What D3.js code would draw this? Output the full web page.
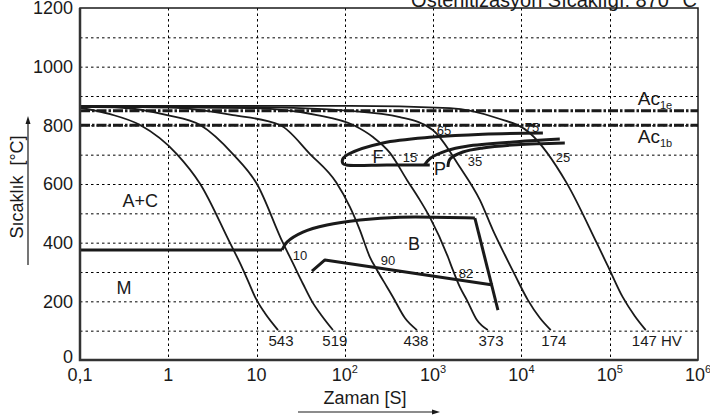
<!DOCTYPE html>
<html><head><meta charset="utf-8">
<script src="https://cdn.jsdelivr.net/npm/d3@7"></script>
<style>body{margin:0;background:#fff}svg{display:block;font-family:"Liberation Sans",Arial,sans-serif}</style>
</head><body><svg id="c" width="710" height="419"></svg>
<script>
// ---- data ----
const timeTicks = [0.1, 1, 10, 100, 1000, 1e4, 1e5, 1e6];
const timeTickLabels = ["0,1", "1", "10", "10|2", "10|3", "10|4", "10|5", "10|6"];
const tempTicks = [0, 200, 400, 600, 800, 1000, 1200];
const gridTemps = [100, 200, 300, 400, 500, 600, 700, 800, 900, 1000, 1100];
const gridTimes = [1, 10, 100, 1000, 1e4, 1e5];
const title = "Östenitizasyon Sıcaklığı: 870 °C";
const yLabel = "Sıcaklık  [°C]";
const xLabel = "Zaman [S]";

// cooling curves [time s, temperature °C]
const cool543 = [[0.1,860],[0.22,838],[0.48,801],[1.25,702],[2.3,600],[5.0,399],[6.5,330],[8.0,270],[9.8,210],[12.4,160],[17.5,102]];
const cool519 = [[0.1,863],[0.3,860],[0.97,835],[2.3,801],[5.4,702],[10.1,600],[19.9,399],[25.8,330],[33.5,260],[42.4,200],[55,150],[73.3,102]];
const cool438 = [[0.1,864],[1,861],[5.4,835],[18.4,801],[40.3,702],[80,605],[114,522],[148,443],[192,351],[231,307],[300,249],[350,215],[479,143],[655,102]];
const cool373 = [[0.1,864],[8.4,859],[48.3,835],[124,801],[208,760],[324,706],[505,614],[708,545],[916,487],[1472,351],[1671,307],[2005,249],[2405,205],[3133,136],[4159,102]];
const cool174 = [[0.1,865],[8.4,862],[114,849],[420,828],[991,784],[2005,658],[3390,545],[4750,443],[6500,358],[8430,290],[11800,205],[16200,143],[21500,102]];
const cool147 = [[0.1,866],[114,866],[1545,859],[5260,825],[12420,774],[32600,603],[71300,399],[95400,320],[140000,215],[192000,150],[256000,102]];
const coolingCurves = [cool543, cool519, cool438, cool373, cool174, cool147];
const hardnessLabels = [[18.9,"543"],[77,"519"],[638,"438"],[4520,"373"],[23300,"174"],[178000,"147 HV"]];
const hardnessTemp = 48;

// transformation lines
const msLine = [[0.1,375],[19.4,375]];
const bStart = [[19.4,375],[22.1,402],[33.5,436],[62.7,460],[148,477],[420,487],[2970,484]];
const bFinish = [[2970,484],[5420,170]];
const bLower = [[42.4,303],[59.5,341],[4750,256]];
const fStart = [[916,665],[300,665],[104,665],[95,670],[95,686],[112,703],[270,740],[991,760],[3660,770],[17500,774]];
const pStart = [[800,665],[930,688],[1430,714],[2405,729],[8890,744],[27200,753]];
const pFinish = [[1472,658],[1550,685],[2170,709],[3660,723],[8890,734],[31000,740]];
const ac1e = 850, ac1b = 800;

// annotations [time, temp, text]
const regionLabels = [[0.48,522,"A+C"],[0.315,225,"M"],[607,375,"B"],[237,672,"F"],[1194,631,"P"]];
const percentLabels = [[546,675,"15"],[2972,661,"35"],[29500,675,"25"],[1325,767,"65"],[13150,777,"75"],[31,341,"10"],[308,324,"90"],[2350,280,"82"]];

// ---- chart ----
const svg = d3.select("#c");
const x = d3.scaleLog().domain([0.1, 1e6]).range([80, 698]);
const y = d3.scaleLinear().domain([0, 1200]).range([360, 8]);
const ink = "#1a1a1a";

svg.append("clipPath").attr("id","clip").append("rect")
  .attr("x", x(0.1)).attr("y", y(1200)).attr("width", x(1e6)-x(0.1)).attr("height", y(0)-y(1200));

// grid
const grid = svg.append("g").attr("stroke", "#000").attr("stroke-width", 1).attr("stroke-dasharray", "2.5,3");
grid.selectAll("line.h").data(gridTemps).join("line").attr("class","h")
  .attr("x1", x(0.1)).attr("x2", x(1e6)).attr("y1", d => y(d)+0.5).attr("y2", d => y(d)+0.5);
grid.selectAll("line.v").data(gridTimes).join("line").attr("class","v")
  .attr("y1", y(1200)).attr("y2", y(0)).attr("x1", d => Math.round(x(d))+0.5).attr("x2", d => Math.round(x(d))+0.5);

// Ac lines
svg.append("g").selectAll("line").data([ac1e, ac1b]).join("line")
  .attr("x1", x(0.1)).attr("x2", x(1e6)).attr("y1", d => y(d)).attr("y2", d => y(d))
  .attr("stroke", ink).attr("stroke-width", 3).attr("stroke-dasharray", "10,2,2.5,2");

const coolGen = d3.line().x(d => x(d[0])).y(d => y(d[1])).curve(d3.curveMonotoneX);
const lineGen = d3.line().x(d => x(d[0])).y(d => y(d[1])).curve(d3.curveCatmullRom.alpha(0.5));
const linGen = d3.line().x(d => x(d[0])).y(d => y(d[1]));
const plot = svg.append("g").attr("clip-path", "url(#clip)");

plot.selectAll("path.cool").data(coolingCurves).join("path").attr("class","cool")
  .attr("d", coolGen).attr("fill","none").attr("stroke", ink).attr("stroke-width", 1.8);

function thick(data, gen) {
  plot.append("path").attr("d", gen(data)).attr("fill","none").attr("stroke", ink)
    .attr("stroke-width", 3).attr("stroke-linejoin","round");
}
thick(msLine, linGen);
thick(bStart, lineGen);
thick(bFinish, linGen);
thick(bLower, linGen);
thick(fStart, lineGen);
thick(pStart, lineGen);
thick(pFinish, lineGen);

// frame
svg.append("rect").attr("x", x(0.1)).attr("y", y(1200)).attr("width", x(1e6)-x(0.1)).attr("height", y(0)-y(1200))
  .attr("fill","none").attr("stroke", ink).attr("stroke-width", 1.5);
svg.append("path").attr("d", `M${x(0.1)},${y(1200)}V${y(0)}H${x(1e6)}`).attr("fill","none").attr("stroke", "#333").attr("stroke-width", 2.5);

// labels
const txt = svg.append("g").attr("fill", "#1a1a1a");
txt.selectAll("text.reg").data(regionLabels).join("text").attr("class","reg")
  .attr("x", d => x(d[0])).attr("y", d => y(d[1])).attr("text-anchor","middle").attr("font-size", 18).text(d => d[2]);
txt.selectAll("text.pct").data(percentLabels).join("text").attr("class","pct")
  .attr("x", d => x(d[0])).attr("y", d => y(d[1])).attr("text-anchor","middle").attr("font-size", 13).text(d => d[2]);
txt.selectAll("text.hv").data(hardnessLabels).join("text").attr("class","hv")
  .attr("x", d => x(d[0])).attr("y", y(hardnessTemp)).attr("text-anchor", (d,i) => i === 5 ? "start" : "middle")
  .attr("font-size", 15).text(d => d[1]);

// Ac labels
[[ac1e, 869, "1e"], [ac1b, 740, "1b"]].forEach(([v, lt, sub]) => {
  const t = txt.append("text").attr("x", x(208000)).attr("y", y(lt)).attr("font-size", 19);
  t.append("tspan").text("Ac");
  t.append("tspan").attr("font-size", 11).attr("dy", 4).text(sub);
});

// y tick labels
txt.selectAll("text.yt").data(tempTicks).join("text").attr("class","yt")
  .attr("x", 73).attr("y", d => y(d) - (d === 0 ? 3 : 0)).attr("dy","0.35em").attr("text-anchor","end").attr("font-size", 18).text(d => d);

// x tick labels
timeTicks.forEach((t, i) => {
  const [base, sup] = timeTickLabels[i].split("|");
  const el = txt.append("text").attr("x", x(t)).attr("y", 381).attr("text-anchor","middle").attr("font-size", 18);
  el.append("tspan").text(base);
  if (sup) el.append("tspan").attr("font-size", 11).attr("dy", -8).text(sup);
});

// title
txt.append("text").attr("x", 697).attr("y", 7).attr("text-anchor","end").attr("font-size", 20).text(title);

// axis titles with arrows
txt.append("text").attr("transform", "translate(23,187) rotate(-90)").attr("text-anchor","middle")
  .attr("font-size", 18).style("white-space","pre").text(yLabel);
svg.append("line").attr("x1", 28).attr("x2", 28).attr("y1", 265).attr("y2", 122).attr("stroke", ink).attr("stroke-width", 1.2);
svg.append("path").attr("d", "M28,116L25.5,124L30.5,124Z").attr("fill", ink);

txt.append("text").attr("x", 365).attr("y", 404).attr("text-anchor","middle").attr("font-size", 18).text(xLabel);
svg.append("line").attr("x1", 298).attr("x2", 434).attr("y1", 412).attr("y2", 412).attr("stroke", ink).attr("stroke-width", 1.2);
svg.append("path").attr("d", "M440,412L432,409.5L432,414.5Z").attr("fill", ink);
</script></body></html>
